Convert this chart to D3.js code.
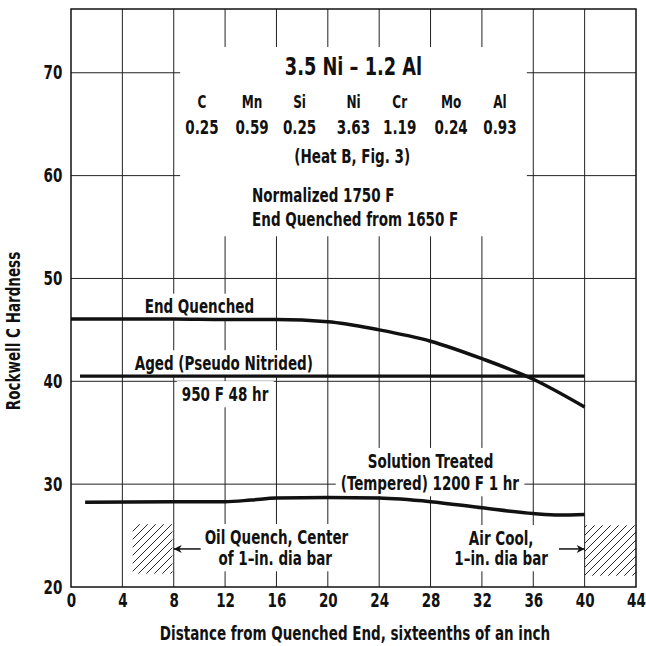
<!DOCTYPE html>
<html>
<head>
<meta charset="utf-8">
<script src="https://cdn.jsdelivr.net/npm/d3@7"></script>
<style>
    html, body { margin: 0; padding: 0; background: #fff; }
    svg text {
        font-family: "Liberation Sans Narrow", "Arial Narrow", "DejaVu Sans Condensed", sans-serif;
        font-weight: bold;
        fill: #111;
    }
</style>
</head>
<body>
<div id="chart"></div>
<script>
/* Jominy end-quench hardness, 3.5 Ni - 1.2 Al steel */

var xTicks = [0, 4, 8, 12, 16, 20, 24, 28, 32, 36, 40, 44];
var yTicks = [20, 30, 40, 50, 60, 70];

var endQuenchedX = [0, 4, 8, 12, 16, 20, 24, 28, 32, 36, 40];
var endQuenchedY = [46.05, 46.05, 46.05, 46.0, 46.0, 45.8, 45.0, 43.9, 42.2, 40.2, 37.5];

var agedX = [0.7, 40];
var agedY = [40.5, 40.5];

var solutionX = [1.1, 8, 12, 14, 16, 20, 24, 28, 32, 36, 38, 40];
var solutionY = [28.25, 28.3, 28.3, 28.45, 28.65, 28.7, 28.65, 28.3, 27.7, 27.15, 27.0, 27.05];

var elements = ["C", "Mn", "Si", "Ni", "Cr", "Mo", "Al"];
var composition = [0.25, 0.59, 0.25, 3.63, 1.19, 0.24, 0.93];

// hatched reference bars (x0, x1, y0, y1)
var oilQuenchBar = [4.8, 7.9, 21.3, 26.1];
var airCoolBar = [40, 44, 21.1, 26.0];

(function() {
    "use strict";

    var width = 646,
        height = 646,
        squeeze = 0.79;   // condensed type: squash glyphs horizontally

    var x = d3.scaleLinear().domain([0, 44]).range([71, 636]);
    var y = d3.scaleLinear().domain([20, 76.2]).range([587, 9]);

    var svg = d3.select('#chart')
        .append('svg')
        .attr('width', width)
        .attr('height', height);

    function label(g, str, px, py, size, anchor) {
        return g.append('text')
            .attr('transform', 'translate(' + px + ',' + py + ') scale(' + squeeze + ',1)')
            .attr('text-anchor', anchor || 'middle')
            .attr('font-size', size)
            .text(str);
    }

    var defs = svg.append('defs');

    defs.append('pattern')
        .attr('id', 'hatch')
        .attr('patternUnits', 'userSpaceOnUse')
        .attr('width', 8)
        .attr('height', 8)
        .append('path')
        .attr('d', 'M0,8 L8,0 M-1,1 L1,-1 M7,9 L9,7')
        .attr('stroke', '#111')
        .attr('stroke-width', 0.9);

    defs.append('marker')
        .attr('id', 'arrow')
        .attr('viewBox', '0 0 10 10')
        .attr('refX', 10)
        .attr('refY', 5)
        .attr('markerWidth', 10)
        .attr('markerHeight', 8)
        .attr('markerUnits', 'userSpaceOnUse')
        .attr('orient', 'auto')
        .append('path')
        .attr('d', 'M0,0 L10,5 L0,10 L3,5 z')
        .attr('fill', '#111');

    // grid
    var grid = svg.append('g').attr('stroke', '#222').attr('stroke-width', 1);

    grid.selectAll('line.v')
        .data(xTicks.filter(function(d) { return d > 0 && d < 44; }))
        .enter()
        .append('line')
        .attr('class', 'v')
        .attr('x1', function(d) { return x(d); })
        .attr('x2', function(d) { return x(d); })
        .attr('y1', y(76.2))
        .attr('y2', y(20));

    grid.selectAll('line.h')
        .data(yTicks.filter(function(d) { return d > 20; }))
        .enter()
        .append('line')
        .attr('class', 'h')
        .attr('x1', x(0))
        .attr('x2', x(44))
        .attr('y1', function(d) { return y(d); })
        .attr('y2', function(d) { return y(d); });

    // white panel behind the heading block
    svg.append('rect')
        .attr('x', x(8.5))
        .attr('y', y(72.5))
        .attr('width', x(35.5) - x(8.5))
        .attr('height', y(54.1) - y(72.5))
        .attr('fill', '#fff');

    // heading
    var head = svg.append('g');

    label(head, '3.5 Ni \u2013 1.2 Al', x(22.0), y(69.8), 25);

    var colX = [10.2, 14.1, 17.8, 22.0, 25.6, 29.6, 33.4];

    elements.forEach(function(d, i) {
        label(head, d, x(colX[i]), y(66.55), 17);
    });

    composition.forEach(function(d, i) {
        label(head, d.toFixed(2), x(colX[i]), y(64.05), 19);
    });

    label(head, '(Heat B, Fig. 3)', x(21.9), y(61.25), 19);
    label(head, 'Normalized 1750 F', x(14.1), y(57.4), 19, 'start');
    label(head, 'End Quenched from 1650 F', x(14.1), y(55.1), 19, 'start');

    // curve labels, each on a white patch that breaks the grid
    var labels = [
        { text: 'End Quenched', x: 10.0, y: 46.6 },
        { text: 'Aged (Pseudo Nitrided)', x: 11.9, y: 41.1 },
        { text: '950 F 48 hr', x: 12.0, y: 38.1 },
        { text: 'Solution Treated', x: 28.0, y: 31.6 },
        { text: '(Tempered) 1200 F 1 hr', x: 27.95, y: 29.45 },
        { text: 'Oil Quench, Center', x: 16.0, y: 24.2 },
        { text: 'of 1\u2013in. dia bar', x: 15.9, y: 22.15 },
        { text: 'Air Cool,', x: 33.5, y: 24.1 },
        { text: '1\u2013in. dia bar', x: 33.5, y: 22.15 }
    ];

    var patches = svg.append('g');
    var labelG = svg.append('g');
    var origin = svg.node().getBoundingClientRect();

    labels.forEach(function(d) {
        var t = label(labelG, d.text, x(d.x), y(d.y), 19);
        var b = t.node().getBoundingClientRect();
        patches.append('rect')
            .attr('x', b.left - origin.left - 5)
            .attr('y', b.top - origin.top - 2)
            .attr('width', b.width + 10)
            .attr('height', b.height + 4)
            .attr('fill', '#fff');
    });

    // curves
    var line = d3.line()
        .x(function(d) { return x(d[0]); })
        .y(function(d) { return y(d[1]); })
        .curve(d3.curveMonotoneX);

    var curves = svg.append('g')
        .attr('fill', 'none')
        .attr('stroke', '#111')
        .attr('stroke-linecap', 'butt');

    curves.append('path')
        .attr('d', line(d3.zip(endQuenchedX, endQuenchedY)))
        .attr('stroke-width', 3.5);

    curves.append('path')
        .attr('d', line(d3.zip(agedX, agedY)))
        .attr('stroke-width', 3.2);

    curves.append('path')
        .attr('d', line(d3.zip(solutionX, solutionY)))
        .attr('stroke-width', 3.5);

    // hatched bars and arrows
    [oilQuenchBar, airCoolBar].forEach(function(b) {
        svg.append('rect')
            .attr('x', x(b[0]))
            .attr('y', y(b[3]))
            .attr('width', x(b[1]) - x(b[0]))
            .attr('height', y(b[2]) - y(b[3]))
            .attr('fill', 'url(#hatch)');
    });

    svg.append('line')
        .attr('x1', x(10.1))
        .attr('x2', x(8))
        .attr('y1', y(23.7))
        .attr('y2', y(23.7))
        .attr('stroke', '#111')
        .attr('stroke-width', 1.5)
        .attr('marker-end', 'url(#arrow)');

    svg.append('line')
        .attr('x1', x(38.0))
        .attr('x2', x(40))
        .attr('y1', y(23.7))
        .attr('y2', y(23.7))
        .attr('stroke', '#111')
        .attr('stroke-width', 1.5)
        .attr('marker-end', 'url(#arrow)');

    // frame
    svg.append('rect')
        .attr('x', x(0))
        .attr('y', y(76.2))
        .attr('width', x(44) - x(0))
        .attr('height', y(20) - y(76.2))
        .attr('fill', 'none')
        .attr('stroke', '#111')
        .attr('stroke-width', 1.5);

    // axes
    var xAxis = svg.append('g')
        .attr('transform', 'translate(0,' + y(20) + ')')
        .call(d3.axisBottom(x).tickValues(xTicks).tickSize(0).tickPadding(7));

    var yAxis = svg.append('g')
        .attr('transform', 'translate(' + x(0) + ',0)')
        .call(d3.axisLeft(y).tickValues(yTicks).tickSize(0).tickPadding(11));

    [xAxis, yAxis].forEach(function(a) {
        a.select('.domain').remove();
        a.attr('font-family', null).attr('font-size', null);
        a.selectAll('text')
            .attr('font-size', 19)
            .attr('fill', '#111')
            .attr('transform', 'scale(' + squeeze + ',1)');
    });

    label(svg, 'Distance from Quenched End, sixteenths of an inch', 355, 640, 19);

    svg.append('text')
        .attr('transform', 'translate(20,331) rotate(-90) scale(' + squeeze + ',1)')
        .attr('text-anchor', 'middle')
        .attr('font-size', 19)
        .text('Rockwell C Hardness');
})();
</script>
</body>
</html>
